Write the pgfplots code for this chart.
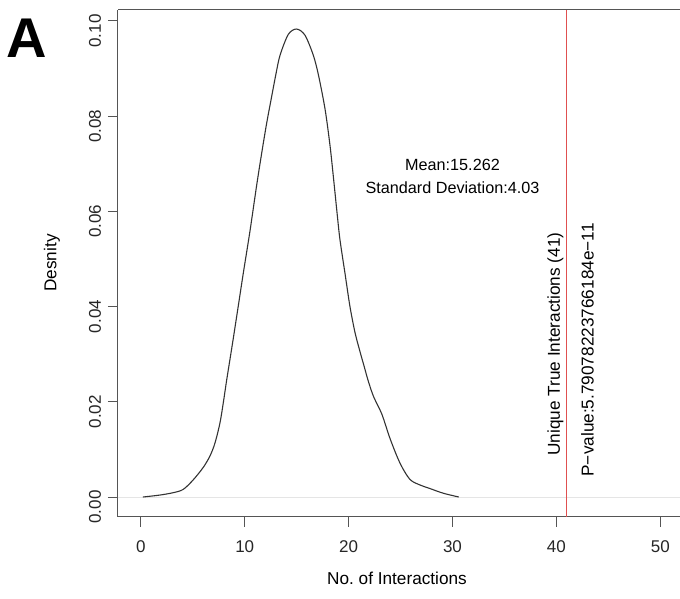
\documentclass[border=0pt]{standalone}
\usepackage{pgfplots}
\pgfplotsset{compat=1.18}
\usepackage{fontspec}
\setmainfont{Liberation Sans}
\definecolor{axgray}{HTML}{555555}
\definecolor{curve}{HTML}{333333}
\definecolor{vline}{HTML}{E05050}

\begin{document}
\begin{tikzpicture}
\begin{axis}[
  name=main,
  scale only axis,
  width=281pt, height=253.5pt,
  xmin=-2.2, xmax=51.9,
  ymin=-0.0042, ymax=0.1023,
  axis x line*=bottom,
  axis y line*=left,
  axis line style={axgray, line width=0.5pt},
  tick style={axgray, line width=0.5pt},
  tick align=outside,
  major tick length=5pt,
  xtick={0,10,20,30,40,50},
  ytick={0,0.02,0.04,0.06,0.08,0.1},
  /pgf/number format/assume math mode=true,
  yticklabel style={/pgf/number format/fixed, /pgf/number format/fixed zerofill,
    /pgf/number format/precision=2, rotate=90, anchor=south, xshift=-5pt},
  xticklabel style={yshift=-3.5pt},
  tick label style={font=\fontsize{8.5}{10}\selectfont, text=black!85},
  clip=false,
]
% faint zero line drawn by plot.density
\addplot[black!10, line width=0.3pt] coordinates {(-2.2,0) (51.9,0)};

% density estimate
\addplot[curve, line width=0.55pt, smooth, tension=0.5] coordinates {
(0.2,0.0000) (1.8,0.0004) (3.1,0.0009) (4.08,0.0016) (5.04,0.0036)
(6.0,0.0062) (6.65,0.0086) (7.13,0.0113) (7.61,0.0155) (7.93,0.0197)
(8.25,0.0244) (8.57,0.0288) (8.89,0.0332) (9.37,0.0400) (9.86,0.0470)
(10.5,0.0558) (11.15,0.0655) (11.63,0.0722) (12.11,0.0785) (12.59,0.0841)
(13.0,0.0888) (13.4,0.0928) (14.2,0.0972) (15.0,0.0983) (15.8,0.0970)
(16.6,0.0928) (17.1,0.0886) (17.73,0.0815) (18.2,0.0740) (18.53,0.0673)
(18.9,0.0594) (19.17,0.0540) (19.65,0.0470) (20.13,0.0400) (20.62,0.0345)
(21.1,0.0305) (21.5,0.0274) (21.9,0.0243) (22.4,0.0211) (23.2,0.0174)
(24.0,0.0122) (24.95,0.0071) (25.9,0.0037) (26.9,0.0025) (27.8,0.0018)
(29.1,0.0008) (30.6,0.0000)
};

% observed value
\addplot[vline, line width=0.5pt] coordinates {(41,-0.0042) (41,0.1023)};

\node[font=\fontsize{8.1}{11.5}\selectfont, align=center] at (axis cs:30.0,0.0674)
  {Mean:15.262\\Standard Deviation:4.03};
\node[rotate=90, font=\fontsize{8.6}{10}\selectfont] at (axis cs:39.9,0.0321)
  {Unique True Interactions (41)};
\node[rotate=90, font=\fontsize{8.6}{10}\selectfont] at (axis cs:43.0,0.0309)
  {P−value:5.79078223766184e−11};
\end{axis}
% top edge of the box
\draw[axgray, line width=0.5pt] (main.north west) -- (main.north east);
% axis titles
\node[font=\fontsize{8.6}{10}\selectfont] at (139.5pt,-30.5pt) {No.\ of Interactions};
\node[rotate=90, font=\fontsize{8.6}{10}\selectfont] at (-33pt,127pt) {Desnity};
% panel letter
\node[font=\fontsize{28}{28}\selectfont\bfseries] at (-45.5pt,239.5pt) {A};
\pgfresetboundingbox
\useasboundingbox (-59pt,-41pt) rectangle (281pt,258.5pt);
\end{tikzpicture}
\end{document}
